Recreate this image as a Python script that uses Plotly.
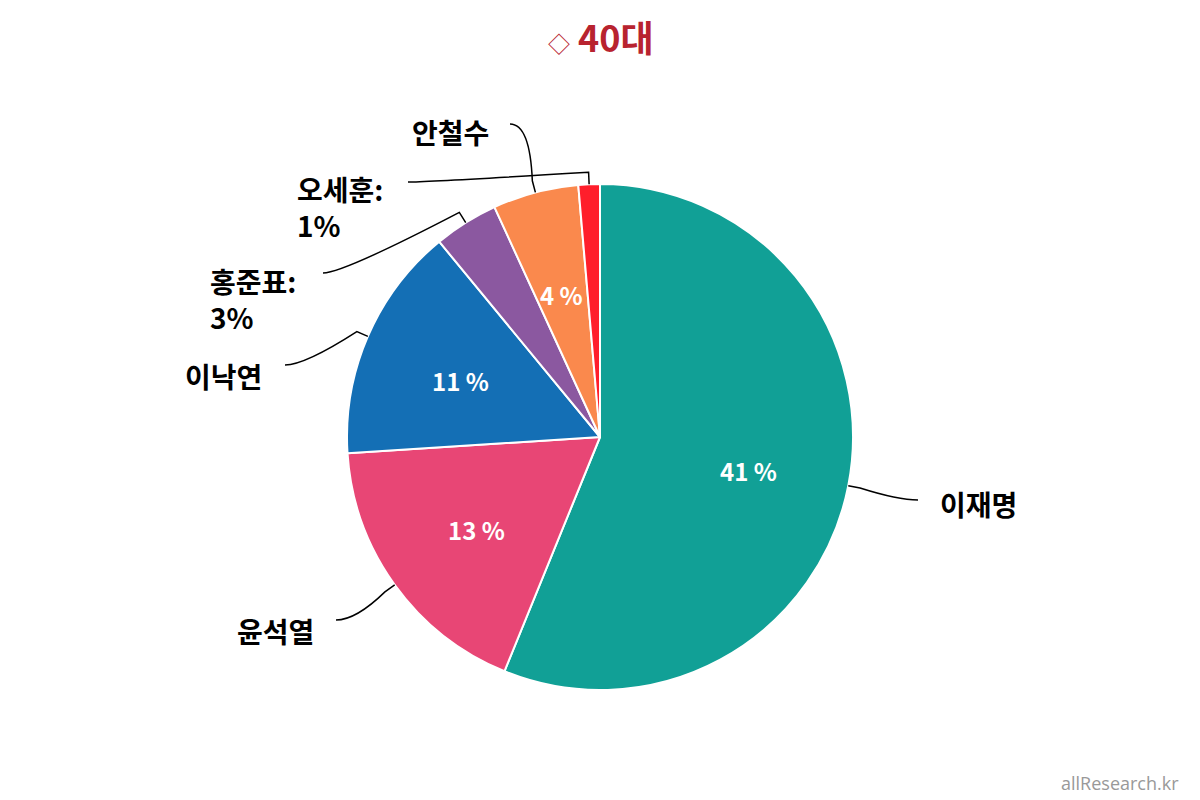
import math
import plotly.graph_objects as go

# ---- data ----
names = ["이재명", "윤석열", "이낙연", "홍준표", "안철수", "오세훈"]
values = [41, 13, 11, 3, 4, 1]
colors = ["#11A096", "#E84675", "#146FB5", "#8B58A0", "#FA894D", "#FF1E2B"]
inside_shown = [True, True, True, False, True, False]
outside_text = ["이재명", "윤석열", "이낙연", "홍준표:<br>3%", "안철수", "오세훈:<br>1%"]
title_mark = "◇"
title_text = "40대"
source_text = "allResearch.kr"

# ---- layout constants (page pixels) ----
W, H = 1200, 800
OFF = 8  # default body margin of the page
CX, CY, R = 600, 437, 253
FONT = "Noto Sans CJK KR, Noto Sans, sans-serif"
# label placement: (connector end x, y, text x, text y, side)
label_pos = {
    "이재명": (918, 500, 938, 504, "right"),
    "윤석열": (336, 620, 316, 631, "left"),
    "이낙연": (285, 365, 264, 376, "left"),
    "홍준표": (323, 273, 208, 299, "left2"),
    "안철수": (510, 124, 491, 132, "left"),
    "오세훈": (408, 182, 295, 207, "left2"),
}


def px(x):
    return (x - OFF) / W


def py(y):
    return 1 - (y - OFF) / H


fig = go.Figure(go.Pie(
    labels=names, values=values, sort=False, direction="clockwise", rotation=0,
    marker=dict(colors=colors, line=dict(color="white", width=2)),
    textinfo="none", hoverinfo="label+value", showlegend=False,
    domain=dict(x=[px(CX - R), px(CX + R)], y=[py(CY + R), py(CY - R)]),
))

annotations = []
shapes = []
total = sum(values)
cum = 0
for name, v, show, otext in zip(names, values, inside_shown, outside_text):
    mid = (cum + v / 2) / total * 2 * math.pi
    cum += v
    sx, sy = math.sin(mid), -math.cos(mid)
    if show:
        annotations.append(dict(
            x=px(CX + 0.6 * R * sx), y=py(CY + 0.6 * R * sy + 4), xref="paper", yref="paper",
            text=f"<b>{v} %</b>", showarrow=False,
            font=dict(family=FONT, size=24, color="white"),
            xanchor="center", yanchor="middle"))
    ex, ey, tx, ty, side = label_pos[name]
    x0, y0 = CX + R * sx, CY + R * sy
    x1, y1 = CX + (R + 12) * sx, CY + (R + 12) * sy
    cdx = -20 if side == "right" else 20
    path = (f"M {px(x0)} {py(y0)} L {px(x1)} {py(y1)} "
            f"Q {px(ex + cdx)} {py(ey)} {px(ex)} {py(ey)}")
    shapes.append(dict(type="path", path=path, xref="paper", yref="paper",
                       line=dict(color="black", width=1.5)))
    if side == "right":
        xa, align = "left", "left"
    elif side == "left":
        xa, align = "right", "right"
    else:
        xa, align = "left", "left"
    annotations.append(dict(
        x=px(tx), y=py(ty), xref="paper", yref="paper", text=f"<b>{otext}</b>",
        showarrow=False, align=align, xanchor=xa, yanchor="middle",
        font=dict(family=FONT, size=28, color="black")))

annotations.append(dict(
    x=px(601), y=py(36), xref="paper", yref="paper",
    text=f"<span style='font-size:22px'>{title_mark}</span> <b>{title_text}</b>",
    showarrow=False, xanchor="center", yanchor="middle",
    font=dict(family=FONT, size=36, color="#B8232F")))
annotations.append(dict(
    x=px(1181), y=py(783), xref="paper", yref="paper", text=source_text,
    showarrow=False, xanchor="right", yanchor="middle",
    font=dict(family="Open Sans, sans-serif", size=18, color="#999999")))

fig.update_layout(
    width=W, height=H, margin=dict(l=0, r=0, t=0, b=0),
    paper_bgcolor="white", plot_bgcolor="white",
    annotations=annotations, shapes=shapes,
)
fig.write_html("out.html")
